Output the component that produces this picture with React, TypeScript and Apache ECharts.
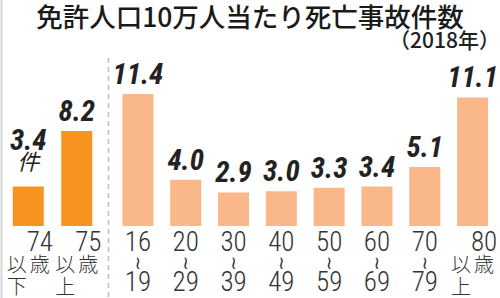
import React, { useEffect, useRef } from "react";
import * as echarts from "echarts";

const titleText = "免許人口10万人当たり死亡事故件数";
const subtitleText = "（2018年）";
const unitText = "件";
const elderCategories = ["74歳以下", "75歳以上"];
const elderValues = [3.4, 8.2];
const ageCategories = ["16～19", "20～29", "30～39", "40～49", "50～59", "60～69", "70～79", "80歳以上"];
const ageValues = [11.4, 4.0, 2.9, 3.0, 3.3, 3.4, 5.1, 11.1];

const NARROW = "'Roboto Condensed', 'Liberation Sans Narrow', 'Arial Narrow', 'DejaVu Sans Condensed', sans-serif";
const CJK = "'Noto Sans CJK JP', sans-serif";
const DARK = "#F7931E";
const LIGHT = "#F9B78A";

function categoryLabel(value: string) {
  const range = value.split("～");
  if (range.length === 2) return `{n|${range[0]}}\n{t|≀}\n{n|${range[1]}}`;
  const m = value.match(/^(\d+)(歳)(.)(.)$/);
  if (m) {
    return `{b| }{n|${m[1]}}\n{c|${m[3]}}{c|${m[2]}}\n{c|${m[4]}}{b| }`;
  }
  return value;
}

const axisRich = {
  n: { fontFamily: NARROW, fontWeight: 300, fontSize: 27, width: 23, align: "center", lineHeight: 20, color: "#333" },
  c: { fontFamily: CJK, fontWeight: 300, fontSize: 20, width: 23, align: "center", lineHeight: 22, color: "#333" },
  b: { width: 23, lineHeight: 20 },
  t: { fontFamily: "'DejaVu Sans', sans-serif", fontSize: 18, lineHeight: 20, color: "#333" },
};

const valueRich = {
  v: { fontFamily: NARROW, fontStyle: "italic", fontWeight: "bold", fontSize: 29, lineHeight: 24, color: "#222" },
  w: { fontFamily: NARROW, fontStyle: "italic", fontWeight: "bold", fontSize: 29, lineHeight: 22, color: "#222" },
  u: { fontFamily: CJK, fontStyle: "italic", fontSize: 22, lineHeight: 18, color: "#222" },
};

function makeLabel(withUnit: boolean) {
  return {
    show: true,
    position: "top",
    distance: 8,
    rich: valueRich,
    formatter: (p: any) =>
      withUnit && p.dataIndex === 0
        ? `{w|${Number(p.value).toFixed(1)}}\n{u|${unitText}}`
        : `{v|${Number(p.value).toFixed(1)}}`,
  };
}

export default function App() {
  const ref = useRef<HTMLDivElement>(null);
  useEffect(() => {
    if (!ref.current) return;
    const chart = echarts.init(ref.current, null, { renderer: "svg" });
    const xCommon = {
      type: "category",
      axisLine: { show: false },
      axisTick: { show: false },
      axisLabel: { margin: 6, rich: axisRich, interval: 0, formatter: (v: string) => categoryLabel(v) },
    };
    const yCommon = { type: "value", min: 0, max: 12, show: false, splitLine: { show: false } };
    chart.setOption({
      animation: false,
      backgroundColor: "#fff",
      title: [
        {
          text: titleText,
          left: "center",
          top: 2,
          padding: 0,
          textStyle: { fontFamily: CJK, fontSize: 26.5, fontWeight: 500, color: "#1a1a1a" },
        },
        {
          text: subtitleText,
          right: 0,
          top: 28,
          padding: 0,
          textStyle: { fontFamily: CJK, fontSize: 21, fontWeight: 500, color: "#222" },
        },
      ],
      grid: [
        { left: 4, width: 97, top: 87, bottom: 72 },
        { left: 114, right: 0, top: 87, bottom: 72 },
      ],
      xAxis: [
        { ...xCommon, gridIndex: 0, data: elderCategories },
        { ...xCommon, gridIndex: 1, data: ageCategories },
      ],
      yAxis: [
        { ...yCommon, gridIndex: 0 },
        { ...yCommon, gridIndex: 1 },
      ],
      series: [
        {
          type: "bar",
          xAxisIndex: 0,
          yAxisIndex: 0,
          barWidth: 31,
          itemStyle: { color: DARK },
          label: makeLabel(true),
          data: elderValues.map((v, i) => (i === 0 ? { value: v, label: { distance: 18 } } : v)),
        },
        {
          type: "bar",
          xAxisIndex: 1,
          yAxisIndex: 1,
          barWidth: 31,
          itemStyle: { color: LIGHT },
          label: makeLabel(false),
          data: ageValues,
        },
      ],
      graphic: [
        {
          type: "line",
          shape: { x1: 1.5, y1: 0, x2: 1.5, y2: 298 },
          style: { stroke: "#d6d6d6", lineWidth: 2 },
        },
        {
          type: "line",
          shape: { x1: 108.5, y1: 58, x2: 108.5, y2: 298 },
          style: { stroke: "#bdbdbd", lineWidth: 1.5, lineDash: [5, 4] },
        },
      ],
    });
    return () => chart.dispose();
  }, []);
  return (
    <div
      ref={ref}
      style={{ position: "fixed", left: 0, top: 0, width: 500, height: 298, background: "#fff" }}
    />
  );
}
